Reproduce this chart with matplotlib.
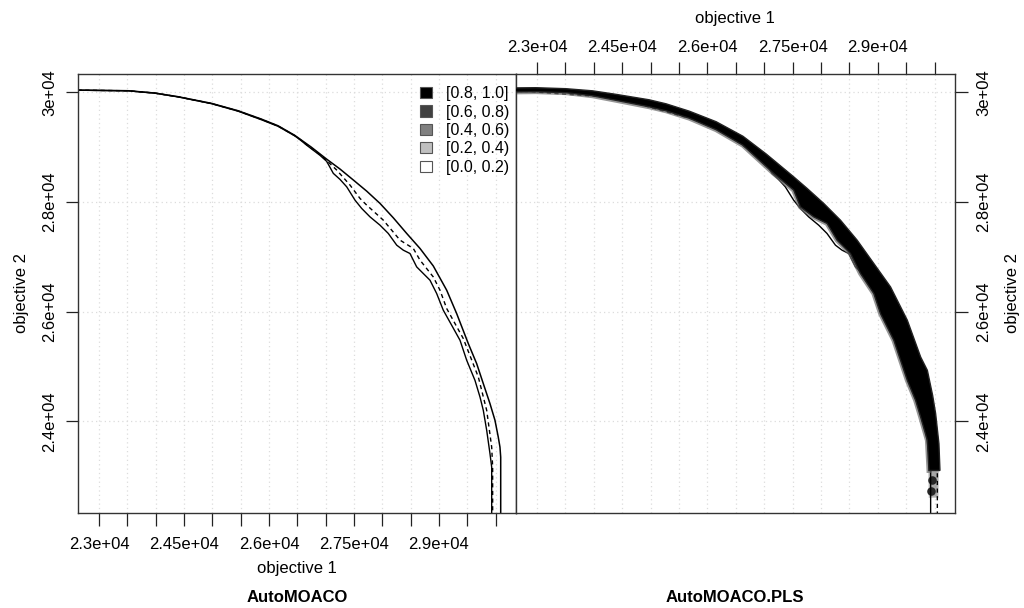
import numpy as np
import matplotlib; matplotlib.use("agg")
import matplotlib.pyplot as plt
from matplotlib.patches import Patch

plt.rcParams["font.family"] = ["Liberation Sans", "DejaVu Sans"]

# attainment surfaces (objective 1, objective 2)
best_x = [22488, 23512, 23983, 24394, 24982, 25453, 25864, 26159, 26454, 26746, 27018, 27253,
          27488, 27724, 27959, 28194, 28430, 28665, 28899, 29136, 29312, 29517, 29665, 29782,
          29900, 29988, 30046, 30076, 30089, 30089]
best_y = [30042, 30029, 29987, 29920, 29799, 29664, 29512, 29390, 29215, 29000, 28780, 28600,
          28400, 28197, 27973, 27710, 27425, 27151, 26832, 26389, 25963, 25416, 25050, 24685,
          24320, 24016, 23710, 23527, 23344, 22000]

worst_x = [22488, 23512, 23983, 24394, 24982, 25453, 25864, 26159, 26454, 26547, 26665, 26900,
           27018, 27135, 27253, 27371, 27518, 27636, 27782, 27959, 28105, 28254, 28370, 28488,
           28606, 28723, 28841, 28959, 29076, 29224, 29371, 29489, 29635, 29724, 29782, 29842,
           29900, 29930, 29930]
worst_y = [30040, 30027, 29984, 29916, 29793, 29656, 29500, 29380, 29205, 29135, 29035, 28850,
           28740, 28521, 28411, 28276, 28032, 27881, 27728, 27576, 27425, 27211, 27120, 27059,
           26815, 26694, 26572, 26329, 26024, 25750, 25476, 25111, 24745, 24440, 24197, 23832,
           23406, 23162, 22000]

med_x = [22488, 23512, 23983, 24394, 24982, 25453, 25864, 26159, 26454, 26547, 26665, 26900,
         27018, 27195, 27430, 27606, 27724, 28017, 28312, 28547, 28665, 28899, 29018, 29136,
         29429, 29694, 29842, 29930, 29947, 29947]
med_y = [30041, 30028, 29986, 29918, 29796, 29660, 29506, 29385, 29210, 29140, 29042, 28862,
         28755, 28581, 28307, 28064, 27942, 27668, 27303, 27151, 26938, 26632, 26389, 26055,
         25507, 24806, 24197, 23527, 23162, 22000]

pls_med_x = [22500, 24389, 26154, 27518, 28518, 29282, 29754, 29980, 30040, 30048, 30048]
pls_med_y = [30040, 29900, 29390, 28340, 27200, 26100, 25000, 24200, 23400, 23000, 22000]

# region where AutoMOACO.PLS attains more often
band_outer_x = [22500, 22977, 23506, 23978, 24389, 24976, 25271, 25682, 26154, 26625, 27036,
                27518, 27754, 28047, 28342, 28636, 28929, 29224, 29519, 29754, 29872, 29965,
                30018, 30076, 30094]
band_outer_y = [30079, 30084, 30066, 30027, 29963, 29863, 29790, 29655, 29463, 29198, 28873,
                28458, 28247, 27973, 27667, 27302, 26877, 26449, 25842, 25171, 24928, 24471,
                24137, 23589, 23101]
band_inner_x = [22500, 22977, 23506, 23978, 24389, 24976, 25271, 25682, 26154, 26625, 27165,
                27518, 27636, 27871, 28107, 28283, 28518, 28695, 28929, 29047, 29282, 29519,
                29665, 29754, 29872, 29900]
band_inner_y = [30005, 30011, 29993, 29936, 29854, 29735, 29662, 29527, 29317, 29034, 28521,
                28216, 27910, 27728, 27607, 27302, 27059, 26694, 26329, 25963, 25476, 24745,
                24380, 24075, 23650, 23101]
tail_x = [29905, 30060, 30050, 29915]
tail_y = [23193, 23193, 22620, 22620]
blob_x = [29960, 29960, 29935]
blob_y = [23284, 22918, 22720]

levels = ["[0.8, 1.0]", "[0.6, 0.8)", "[0.4, 0.6)", "[0.2, 0.4)", "[0.0, 0.2)"]
level_cols = ["#000000", "#404040", "#808080", "#c0c0c0", "#ffffff"]

xticks = np.arange(23000, 30001, 500)
xlab = {23000: "2.3e+04", 24500: "2.45e+04", 26000: "2.6e+04", 27500: "2.75e+04", 29000: "2.9e+04"}
yticks = [24000, 26000, 28000, 30000]
ylab = ["2.4e+04", "2.6e+04", "2.8e+04", "3e+04"]
xlim = (22629, 30359)
ylim = (22325, 30334)

W, H = 1024, 608
fig = plt.figure(figsize=(W / 100, H / 100), dpi=100)
ax1 = fig.add_axes([78 / W, 1 - 513 / H, 438 / W, 439 / H])
ax2 = fig.add_axes([516 / W, 1 - 513 / H, 439 / W, 439 / H])

for ax in (ax1, ax2):
    ax.set_xlim(xlim); ax.set_ylim(ylim)
    ax.set_xticks(xticks)
    ax.set_xticklabels([xlab.get(int(t), "") for t in xticks])
    ax.set_yticks(yticks)
    ax.set_yticklabels(ylab, rotation=90, va="center")
    ax.grid(True, color="#dcdcdc", linestyle=(0, (1, 2.5)), lw=0.9)
    ax.set_axisbelow(True)
    ax.tick_params(length=9, width=0.9, labelsize=12, color="#222222")
    ax.tick_params(axis="y", pad=6)
    for s in ax.spines.values():
        s.set_color("#333333"); s.set_linewidth(1.0)
ax1.tick_params(axis="x", pad=8)

# left panel: AutoMOACO (no region where it is better)
ax1.plot(best_x, best_y, color="black", lw=1.1)
ax1.plot(worst_x, worst_y, color="black", lw=1.0)
ax1.plot(med_x, med_y, color="black", lw=1.0, linestyle=(0, (3, 2.5)))
handles = [Patch(facecolor=c, edgecolor="#555555", lw=0.8) for c in level_cols]
ax1.legend(handles, levels, loc="upper right", bbox_to_anchor=(0.985, 0.972), frameon=False,
           fontsize=11.5, handlelength=0.7, handleheight=0.7, handletextpad=0.9,
           labelspacing=0.21, borderaxespad=0, borderpad=0)

# right panel: AutoMOACO.PLS
ax2.xaxis.tick_top(); ax2.yaxis.tick_right()
ax2.tick_params(axis="x", pad=5)
ax2.fill(tail_x, tail_y, facecolor="#8a8a8a", edgecolor="#b0b0b0", lw=1.5, alpha=0.75, zorder=2.2)
ax2.scatter(blob_x, blob_y, s=38, color="#262626", zorder=2.3, lw=0)
ax2.plot(worst_x, worst_y, color="black", lw=1.0, zorder=2.4)
ax2.plot(pls_med_x, pls_med_y, color="black", lw=1.0, linestyle=(0, (3, 2.5)), zorder=2.4)
ax2.plot(band_inner_x, band_inner_y, color="#6a6a6a", lw=3.5, alpha=0.7, zorder=2.5)
ax2.fill(np.r_[band_outer_x, band_inner_x[::-1]], np.r_[band_outer_y, band_inner_y[::-1]],
         facecolor="black", edgecolor="#222222", lw=1.0, zorder=3)

fig.text(297 / W, 1 - 568 / H, "objective 1", ha="center", va="center", fontsize=12)
fig.text(735 / W, 1 - 18 / H, "objective 1", ha="center", va="center", fontsize=12)
fig.text(22 / W, 1 - 293 / H, "objective 2", ha="center", va="center", fontsize=12, rotation=90)
fig.text(1012 / W, 1 - 293 / H, "objective 2", ha="center", va="center", fontsize=12, rotation=90)
fig.text(297 / W, 1 - 597 / H, "AutoMOACO", ha="center", va="center", fontsize=12, weight="bold")
fig.text(735 / W, 1 - 597 / H, "AutoMOACO.PLS", ha="center", va="center", fontsize=12, weight="bold")

fig.savefig("out.png", dpi=100)
